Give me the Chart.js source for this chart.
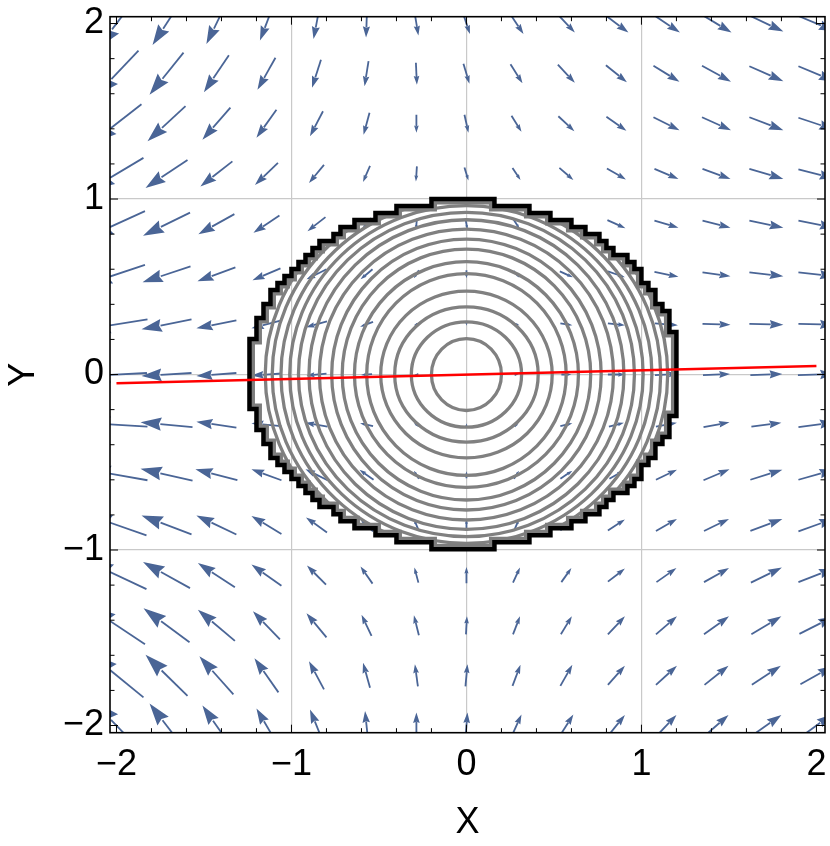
<!DOCTYPE html>
<html>
<head>
<meta charset="utf-8">
<script src="https://cdn.jsdelivr.net/npm/chart.js@4.4.1/dist/chart.umd.min.js"></script>
<style>
  html, body { margin: 0; padding: 0; background: #fff; }
</style>
</head>
<body>
<canvas id="field-chart" width="830" height="846"></canvas>
<script>
// sample points of the vector field
const gridX = [-2, -1.714, -1.429, -1.143, -0.857, -0.571, -0.286, 0, 0.286, 0.571, 0.857, 1.143, 1.429, 1.714, 2];
const gridY = [2, 1.714, 1.429, 1.143, 0.857, 0.571, 0.286, 0, -0.286, -0.571, -0.857, -1.143, -1.429, -1.714, -2];

// arrow components, one row per gridY value (x to the right, y upward)
const arrowU = [
  [-38, -28, -20, -13, -6, -1, 4, 7, 14, 17, 24, 27, 30, 34, 36],
  [-44, -34, -25, -18, -9, -4, 1, 6, 12, 17, 21, 26, 29, 34, 36],
  [-50, -38, -28, -20, -13, -6, 0, 4, 10, 16, 20, 26, 29, 34, 36],
  [-54, -42, -32, -23, -15, -7, -1, 4, 8, 14, 19, 24, 28, 34, 36],
  [-57, -47, -36, -26, -18, -9, -1, 2, 6, 13, 18, 24, 28, 34, 36],
  [-57, -48, -38, -28, -20, -12, -5, 0, 6, 13, 17, 24, 28, 34, 36],
  [-62, -50, -40, -30, -21, -13, -5, 0, 6, 12, 17, 23, 28, 34, 36],
  [-61, -50, -40, -30, -20, -11, -4, 0, 4, 10, 17, 23, 27, 32, 37],
  [-62, -52, -40, -30, -22, -13, -5, 0, 4, 12, 15, 21, 26, 30, 36],
  [-62, -52, -42, -30, -22, -14, -5, 0, 5, 12, 14, 21, 26, 32, 36],
  [-60, -50, -40, -30, -21, -13, -5, 0, 5, 12, 17, 21, 25, 32, 36],
  [-60, -47, -37, -30, -19, -12, -4, 0, 7, 10, 17, 20, 25, 31, 36],
  [-57, -46, -37, -27, -20, -10, -5, 1, 7, 11, 17, 21, 25, 30, 34],
  [-54, -42, -34, -24, -15, -7, -3, 2, 8, 12, 17, 21, 24, 29, 32],
  [-48, -34, -28, -20, -13, -3, 0, 2, 10, 14, 17, 20, 24, 30, 30]
];
const arrowV = [
  [-50, -43, -41, -34, -31, -28, -24, -21, -21, -18, -18, -18, -18, -16, -15],
  [-46, -42, -37, -32, -28, -25, -22, -20, -19, -18, -17, -16, -16, -15, -15],
  [-39, -35, -32, -28, -25, -22, -18, -18, -16, -15, -14, -13, -13, -13, -12],
  [-32, -28, -25, -22, -18, -16, -15, -13, -12, -12, -11, -10, -10, -10, -9],
  [-26, -23, -20, -17, -14, -12, -11, -11, -9, -8, -8, -7, -7, -7, -7],
  [-19, -16, -14, -12, -10, -10, -8, -8, -7, -6, -6, -5, -4, -4, -4],
  [-10, -10, -8, -8, -6, -5, -2, -3, -2, -2, -2, -2, -1, -1, -1],
  [-3, -3, -3, -2, -2, -1, 0, 0, 0, 0, 0, 1, 1, 1, 1],
  [4, 5, 6, 3, 4, 3, 3, 3, 4, 3, 4, 4, 5, 4, 5],
  [11, 12, 11, 11, 11, 10, 8, 7, 8, 8, 8, 10, 11, 10, 10],
  [21, 19, 19, 18, 15, 13, 12, 12, 12, 11, 11, 12, 12, 12, 13],
  [28, 26, 24, 21, 19, 17, 15, 16, 15, 14, 13, 14, 14, 15, 14],
  [38, 34, 31, 28, 24, 21, 20, 18, 18, 18, 18, 18, 18, 18, 17],
  [44, 41, 38, 34, 28, 25, 22, 22, 21, 21, 19, 19, 19, 19, 18],
  [50, 44, 40, 34, 32, 29, 26, 26, 22, 22, 21, 21, 21, 21, 22]
];

// contour rings around the origin (half widths / half heights)
const ringRx = [0.20, 0.315, 0.41, 0.49, 0.57, 0.64, 0.71, 0.77, 0.84, 0.90, 0.96, 1.01, 1.06, 1.11, 1.15];
const ringRy = [0.205, 0.30, 0.385, 0.475, 0.575, 0.643, 0.715, 0.772, 0.829, 0.882, 0.924, 0.962, 1.0, 1.04, 1.08];

// region the contours are cut to
const regionX = [-1.25, 1.22];
const regionY = [-0.995, 1.0];

// red line
const lineX = [-2, 2];
const lineY = [-0.05, 0.048];

const tickValues = [-2, -1, 0, 1, 2];
const tickLabels = ['\u22122', '\u22121', '0', '1', '2'];
const minorTicks = [-1.8, -1.6, -1.4, -1.2, -0.8, -0.6, -0.4, -0.2, 0.2, 0.4, 0.6, 0.8, 1.2, 1.4, 1.6, 1.8];

const arrowScale = 1 / 175;   // arrow length per component unit, in axis units
const regionStep = 0.04;      // sampling cell of the region edge
const labelFont = { family: "'Liberation Sans', Arial, sans-serif", size: 36 };

function regionPath(ctx, sx, sy) {
  const cx = (regionX[0] + regionX[1]) / 2, ax = (regionX[1] - regionX[0]) / 2;
  const cy = (regionY[0] + regionY[1]) / 2, ay = (regionY[1] - regionY[0]) / 2;
  const n = Math.round(2 * ay / regionStep);
  const h = 2 * ay / n;
  const rows = [];
  for (let k = 0; k < n; k++) {
    const lo = cy - ay + k * h, hi = lo + h;
    // sample each row towards its outer edge
    const at = (lo + hi) / 2 > cy ? lo + 0.75 * h : lo + 0.25 * h;
    const half = ax * Math.sqrt(Math.max(0, 1 - Math.pow((at - cy) / ay, 2)));
    rows.push({
      lo, hi,
      l: Math.round((cx - half) / regionStep) * regionStep,
      r: Math.round((cx + half) / regionStep) * regionStep
    });
  }
  ctx.beginPath();
  rows.forEach((row, k) => {
    const f = k === 0 ? 'moveTo' : 'lineTo';
    ctx[f](sx.getPixelForValue(row.r), sy.getPixelForValue(row.lo));
    ctx.lineTo(sx.getPixelForValue(row.r), sy.getPixelForValue(row.hi));
  });
  for (let k = rows.length - 1; k >= 0; k--) {
    ctx.lineTo(sx.getPixelForValue(rows[k].l), sy.getPixelForValue(rows[k].hi));
    ctx.lineTo(sx.getPixelForValue(rows[k].l), sy.getPixelForValue(rows[k].lo));
  }
  ctx.closePath();
}

const fieldPlugin = {
  id: 'field',
  beforeDatasetsDraw(chart) {
    const { ctx, chartArea: a, scales: { x, y } } = chart;
    ctx.save();
    ctx.beginPath();
    ctx.rect(a.left, a.top, a.right - a.left, a.bottom - a.top);
    ctx.clip();

    // arrows
    ctx.strokeStyle = '#4a6596';
    ctx.fillStyle = '#4a6596';
    ctx.lineWidth = 1.8;
    gridY.forEach((gy, i) => {
      gridX.forEach((gx, j) => {
        const u = arrowU[i][j] * arrowScale, v = arrowV[i][j] * arrowScale;
        const x0 = x.getPixelForValue(gx - u / 2), y0 = y.getPixelForValue(gy - v / 2);
        const x1 = x.getPixelForValue(gx + u / 2), y1 = y.getPixelForValue(gy + v / 2);
        const len = Math.hypot(x1 - x0, y1 - y0);
        if (len < 1) return;
        const dx = (x1 - x0) / len, dy = (y1 - y0) / len;
        const hl = Math.max(3.5, 0.4 * len), hw = hl * 0.32;
        const bx = x1 - dx * hl, by = y1 - dy * hl;
        ctx.beginPath();
        ctx.moveTo(x0, y0);
        ctx.lineTo(bx + dx * 1, by + dy * 1);
        ctx.stroke();
        ctx.beginPath();
        ctx.moveTo(x1, y1);
        ctx.lineTo(bx - dy * hw, by + dx * hw);
        ctx.lineTo(bx + dx * hl * 0.12, by + dy * hl * 0.12);
        ctx.lineTo(bx + dy * hw, by - dx * hw);
        ctx.closePath();
        ctx.fill();
      });
    });

    // contour rings, cut to the region
    ctx.save();
    regionPath(ctx, x, y);
    ctx.clip();
    ctx.strokeStyle = '#808080';
    ctx.lineWidth = 3.3;
    const ox = x.getPixelForValue(0), oy = y.getPixelForValue(0);
    ringRx.forEach((rx, k) => {
      const px = Math.abs(x.getPixelForValue(rx) - ox);
      const py = Math.abs(y.getPixelForValue(ringRy[k]) - oy);
      ctx.beginPath();
      ctx.ellipse(ox, oy, px, py, 0, 0, Math.PI * 2);
      ctx.stroke();
    });
    regionPath(ctx, x, y);
    ctx.lineWidth = 11;
    ctx.strokeStyle = '#7d7d7d';
    ctx.stroke();
    ctx.restore();

    regionPath(ctx, x, y);
    ctx.lineWidth = 4.5;
    ctx.strokeStyle = '#000';
    ctx.lineJoin = 'miter';
    ctx.stroke();
    ctx.restore();
  },
  afterDraw(chart) {
    const { ctx, chartArea: a, scales: { x, y } } = chart;
    ctx.save();
    ctx.strokeStyle = '#000';
    ctx.lineWidth = 1;
    const marks = (vals, len) => {
      vals.forEach(v => {
        const px = x.getPixelForValue(v), py = y.getPixelForValue(v);
        ctx.beginPath();
        ctx.moveTo(px, a.bottom); ctx.lineTo(px, a.bottom - len);
        ctx.moveTo(px, a.top); ctx.lineTo(px, a.top + len);
        ctx.moveTo(a.left, py); ctx.lineTo(a.left + len, py);
        ctx.moveTo(a.right, py); ctx.lineTo(a.right - len, py);
        ctx.stroke();
      });
    };
    marks(tickValues, 8);
    marks(minorTicks, 4.5);
    ctx.lineWidth = 1.6;
    ctx.strokeRect(a.left, a.top, a.right - a.left, a.bottom - a.top);
    ctx.restore();
  }
};

const gridColor = c => (c.tick && Math.abs(c.tick.value) === 2) ? 'rgba(0,0,0,0)' : '#c9c9c9';
const noPadding = s => { s.paddingLeft = 0; s.paddingRight = 0; s.paddingTop = 0; s.paddingBottom = 0; };

new Chart(document.getElementById('field-chart'), {
  type: 'scatter',
  data: {
    datasets: [{
      data: lineX.map((v, i) => ({ x: v, y: lineY[i] })),
      showLine: true,
      borderColor: '#ff0000',
      borderWidth: 2.5,
      pointRadius: 0,
      fill: false
    }]
  },
  options: {
    responsive: false,
    animation: false,
    devicePixelRatio: 1,
    layout: { padding: { top: 16.7, right: 5, bottom: 0, left: 0 } },
    plugins: { legend: { display: false }, tooltip: { enabled: false } },
    scales: {
      x: {
        type: 'linear',
        min: -2.037,
        max: 2.049,
        afterBuildTicks: s => { s.ticks = tickValues.map(v => ({ value: v })); },
        afterFit: s => { s.height = 113.3; noPadding(s); },
        ticks: {
          autoSkip: false,
          maxRotation: 0,
          padding: 11,
          color: '#000',
          font: labelFont,
          callback: v => tickLabels[tickValues.indexOf(v)]
        },
        grid: { color: gridColor, lineWidth: 1.2, drawTicks: false },
        border: { display: false },
        title: { display: true, text: 'X', color: '#000', font: labelFont, padding: { top: 0, bottom: 1 } }
      },
      y: {
        type: 'linear',
        min: -2.041,
        max: 2.039,
        afterBuildTicks: s => { s.ticks = tickValues.map(v => ({ value: v })); },
        afterFit: s => { s.width = 110; noPadding(s); },
        ticks: {
          autoSkip: false,
          padding: 6,
          color: '#000',
          font: labelFont,
          callback: v => tickLabels[tickValues.indexOf(v)]
        },
        grid: { color: gridColor, lineWidth: 1.2, drawTicks: false },
        border: { display: false },
        title: { display: true, text: 'Y', color: '#000', font: labelFont, padding: { top: 2, bottom: 0 } }
      }
    }
  },
  plugins: [fieldPlugin]
});
</script>
</body>
</html>
